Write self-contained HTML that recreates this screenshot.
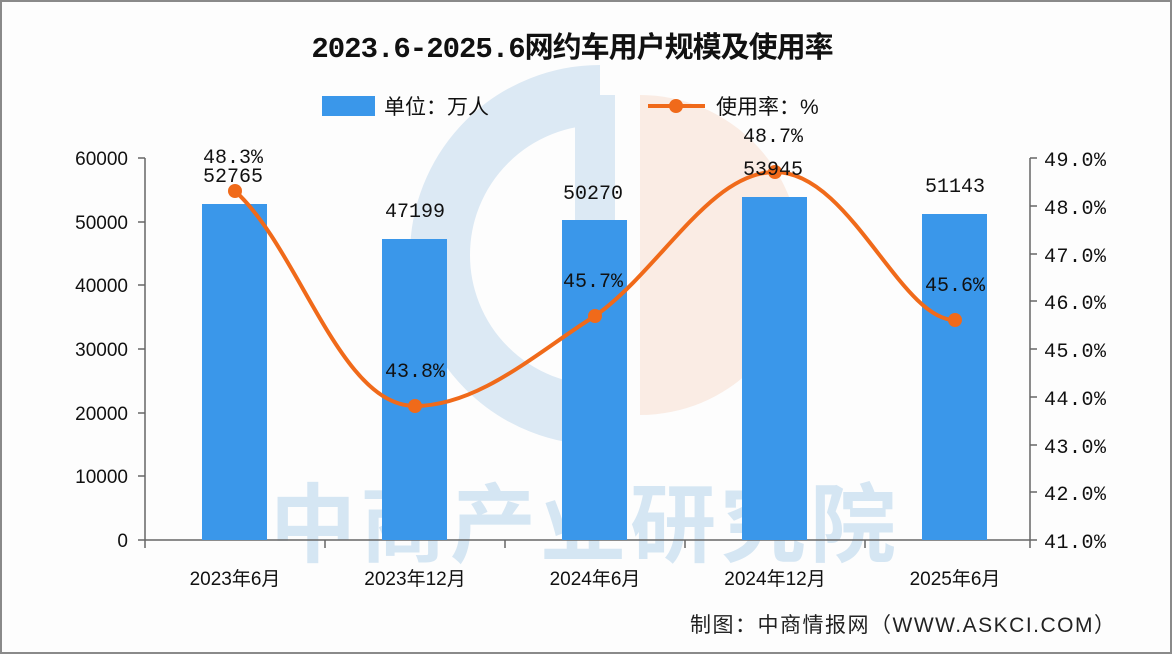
<!DOCTYPE html>
<html><head><meta charset="utf-8"><style>
body{margin:0;background:#fff}
svg{display:block;font-family:"Liberation Sans","Noto Sans CJK SC",sans-serif}
.m{font-family:"Liberation Mono","Noto Sans CJK SC",monospace}
</style></head><body>
<svg width="1172" height="654" viewBox="0 0 1172 654">
<rect x="1" y="1" width="1170" height="652" fill="#fdfdfd" stroke="#8a8a8a" stroke-width="2"/>
<!-- watermark -->
<path d="M600 95 A160 160 0 0 0 600 415" fill="none" stroke="#dce9f4" stroke-width="60"/>
<rect x="575" y="95" width="40" height="160" fill="#dce9f4"/>
<path d="M640 95 A160 160 0 0 1 640 415 Z" fill="#f9e7dd" opacity="0.8"/>
<text x="585" y="555" text-anchor="middle" font-size="86" fill="#d5e6f3" font-weight="bold" letter-spacing="4">中商产业研究院</text>
<text x="572" y="57" text-anchor="middle" font-size="29" font-weight="bold" fill="#111" class="m" letter-spacing="-1">2023.6-2025.6网约车用户规模及使用率</text>
<rect x="322" y="96" width="53" height="20" fill="#3a97ea"/>
<text x="384" y="114" font-size="21" fill="#111">单位：万人</text>
<line x1="648" y1="106" x2="705" y2="106" stroke="#f06a1a" stroke-width="4"/>
<circle cx="676" cy="106" r="7" fill="#f06a1a"/>
<text x="716" y="114" font-size="21" fill="#111">使用率：%</text>
<!-- axes -->
<g stroke="#666" stroke-width="1.5" fill="none">
<line x1="145" y1="158" x2="145" y2="540"/>
<line x1="138" y1="540" x2="1030" y2="540"/>
<line x1="1030" y1="158" x2="1030" y2="540"/>
<path d="M138 158H145M138 222H145M138 285H145M138 349H145M138 413H145M138 476H145"/>
<path d="M1030 158H1037M1030 206H1037M1030 254H1037M1030 301H1037M1030 349H1037M1030 397H1037M1030 445H1037M1030 492H1037M1030 540H1037"/>
<path d="M145 540V548M325 540V548M505 540V548M685 540V548M865 540V548M1030 540V548"/>
</g>
<g font-size="19" fill="#111" text-anchor="end">
<text x="128" y="165">60000</text><text x="128" y="229">50000</text><text x="128" y="292">40000</text>
<text x="128" y="356">30000</text><text x="128" y="420">20000</text><text x="128" y="483">10000</text><text x="128" y="547">0</text>
</g>
<g font-size="20" fill="#111" class="m" letter-spacing="0.5">
<text x="1044" y="166">49.0%</text><text x="1044" y="214">48.0%</text><text x="1044" y="262">47.0%</text>
<text x="1044" y="309">46.0%</text><text x="1044" y="357">45.0%</text><text x="1044" y="405">44.0%</text>
<text x="1044" y="453">43.0%</text><text x="1044" y="500">42.0%</text><text x="1044" y="548">41.0%</text>
</g>
<g fill="#3a97ea">
<rect x="202" y="204" width="65" height="336"/>
<rect x="382" y="239" width="65" height="301"/>
<rect x="562" y="220" width="65" height="320"/>
<rect x="742" y="197" width="65" height="343"/>
<rect x="922" y="214" width="65" height="326"/>
</g>
<g font-size="19" fill="#111" text-anchor="middle">
<text x="235" y="585">2023年6月</text><text x="415" y="585">2023年12月</text><text x="595" y="585">2024年6月</text>
<text x="775" y="585">2024年12月</text><text x="955" y="585">2025年6月</text>
</g>
<path d="M235 191 C300 250,340 406,415 406 C480 406,540 350,595 316 C660 270,710 172,775 172 C850 172,900 320,955 320" fill="none" stroke="#f06a1a" stroke-width="4"/>
<g fill="#f06a1a">
<circle cx="235" cy="191" r="7"/><circle cx="415" cy="406" r="7"/><circle cx="595" cy="316" r="7"/>
<circle cx="775" cy="172" r="7"/><circle cx="955" cy="320" r="7"/>
</g>
<g font-size="20" fill="#111" text-anchor="middle" class="m">
<text x="233" y="163">48.3%</text><text x="233" y="182">52765</text>
<text x="415" y="217">47199</text><text x="415" y="377">43.8%</text>
<text x="593" y="199">50270</text><text x="593" y="287">45.7%</text>
<text x="773" y="142">48.7%</text><text x="773" y="175">53945</text>
<text x="955" y="192">51143</text><text x="955" y="291">45.6%</text>
</g>
<text x="690" y="632" font-size="21" fill="#222" letter-spacing="1.5">制图：中商情报网（WWW.ASKCI.COM）</text>
</svg>
</body></html>
